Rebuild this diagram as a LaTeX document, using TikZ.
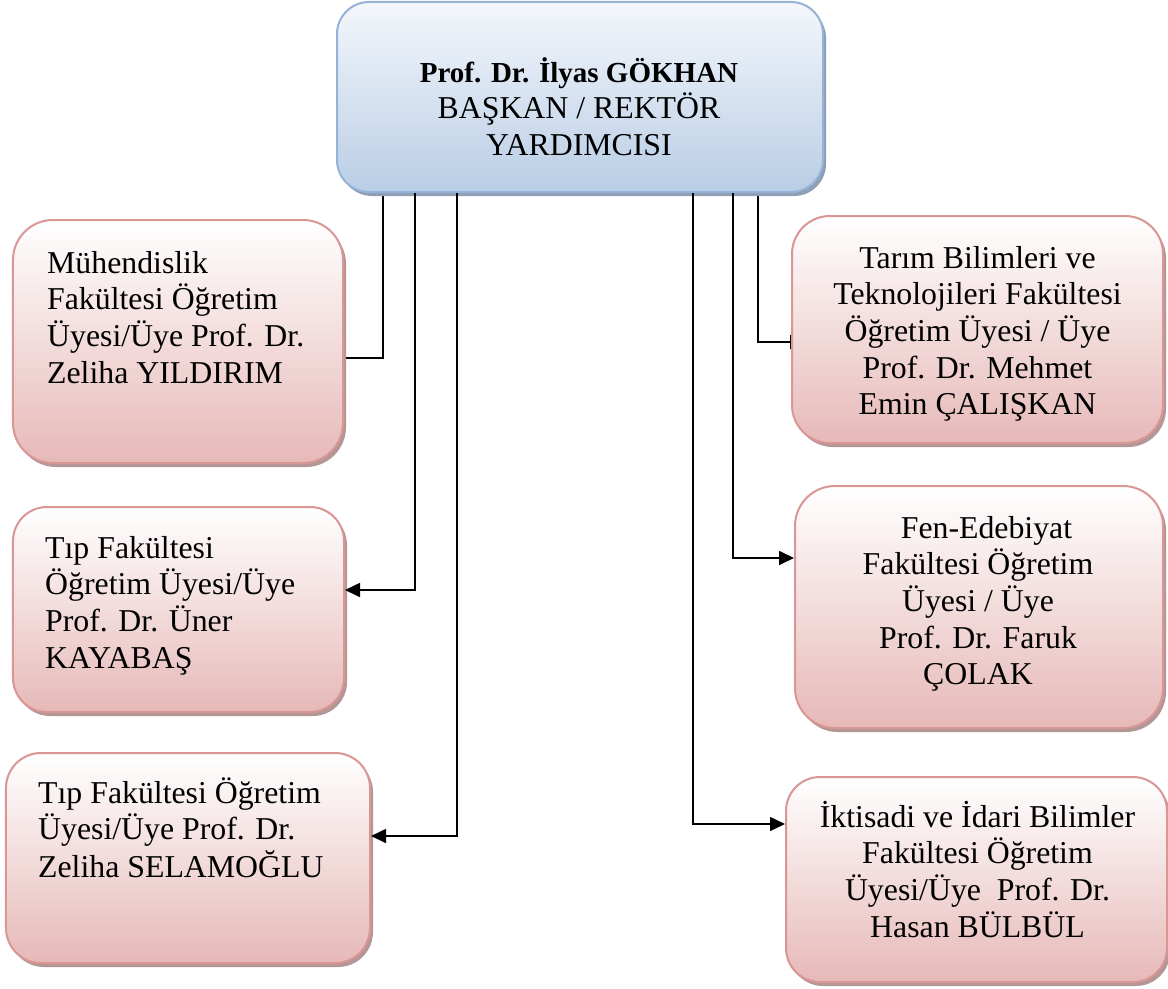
\documentclass[tikz,border=0pt]{standalone}
\usepackage{fontspec}
\setmainfont{Liberation Serif}
\usetikzlibrary{arrows.meta,shadows}
\definecolor{pinkbot}{HTML}{E6B9B8}
\definecolor{pinkline}{HTML}{D99694}
\definecolor{pinkshadow}{HTML}{B39797}
\definecolor{bluetop}{HTML}{F4F7FC}
\definecolor{bluebot}{HTML}{B9CDE5}
\definecolor{blueline}{HTML}{95B3D7}
\definecolor{blueshadow}{HTML}{8E9FB6}
\pgfdeclarelayer{bottom}
\pgfdeclarelayer{behind}
\pgfsetlayers{bottom,behind,main}
\tikzset{
  pinkbox/.style={rectangle, draw=pinkline, line width=2bp, top color=white, bottom color=pinkbot,
    inner sep=0pt, general shadow={shadow xshift=3bp, shadow yshift=-4bp, fill=pinkshadow}},
  bluebox/.style={rectangle, draw=blueline, line width=2bp, top color=bluetop, bottom color=bluebot,
    inner sep=0pt, general shadow={shadow xshift=3bp, shadow yshift=-4bp, fill=blueshadow}},
  txt/.style={inner sep=0pt, font=\fontsize{31.8bp}{36.7bp}\selectfont},
  conn/.style={draw=black, line width=1.7bp},
  arr/.style={conn, -{Triangle[length=15bp,width=14bp]}}
}
\begin{document}
\begin{tikzpicture}[x=1bp,y=-1bp]
\begin{pgfonlayer}{bottom}
\path[use as bounding box, fill=white] (0,0) rectangle (1168,989);
\end{pgfonlayer}

% boxes
\node[bluebox, minimum width=486bp, minimum height=190bp, rounded corners=32bp] (top) at (580,97) {};
\node[pinkbox, minimum width=330bp, minimum height=243bp, rounded corners=40bp] (l1) at (178,341.5) {};
\node[pinkbox, minimum width=331bp, minimum height=205bp, rounded corners=34bp] (l2) at (178.5,609.5) {};
\node[pinkbox, minimum width=364bp, minimum height=210bp, rounded corners=35bp] (l3) at (188,858) {};
\node[pinkbox, minimum width=371bp, minimum height=227bp, rounded corners=38bp] (r1) at (977.5,329.5) {};
\node[pinkbox, minimum width=368bp, minimum height=242bp, rounded corners=40bp] (r2) at (979,607) {};
\node[pinkbox, minimum width=381bp, minimum height=205bp, rounded corners=34bp] (r3) at (976.5,879.5) {};

% texts
\node[txt, anchor=base] (ttop) at (579,82) {\begin{tabular}[t]{@{}c@{}}{\fontsize{29bp}{36.7bp}\selectfont\bfseries Prof. Dr. İlyas GÖKHAN}\\BAŞKAN / REKTÖR\\YARDIMCISI\end{tabular}};
\node[txt, anchor=base west] (tl1) at (47,273) {\begin{tabular}[t]{@{}l@{}}Mühendislik\\Fakültesi Öğretim\\Üyesi/Üye Prof. Dr.\\Zeliha YILDIRIM\end{tabular}};
\node[txt, anchor=base west] (tl2) at (45,558) {\begin{tabular}[t]{@{}l@{}}Tıp Fakültesi\\Öğretim Üyesi/Üye\\Prof. Dr. Üner\\KAYABAŞ\end{tabular}};
\node[txt, anchor=base west] (tl3) at (38,803) {\begin{tabular}[t]{@{}l@{}}Tıp Fakültesi Öğretim\\Üyesi/Üye Prof. Dr.\\Zeliha SELAMOĞLU\end{tabular}};
\node[txt, anchor=base] (tr1) at (977.5,268) {\begin{tabular}[t]{@{}c@{}}Tarım Bilimleri ve\\Teknolojileri Fakültesi\\Öğretim Üyesi / Üye\\Prof. Dr. Mehmet\\Emin ÇALIŞKAN\end{tabular}};
\node[txt, anchor=base] (tr2) at (978,538) {\begin{tabular}[t]{@{}c@{}}\hspace*{17bp}Fen-Edebiyat\\Fakültesi Öğretim\\Üyesi / Üye\\Prof. Dr. Faruk\\ÇOLAK\end{tabular}};
\node[txt, anchor=base] (tr3) at (977.5,827) {\begin{tabular}[t]{@{}c@{}}İktisadi ve İdari Bilimler\\Fakültesi Öğretim\\Üyesi/Üye\ \ Prof. Dr.\\Hasan BÜLBÜL\end{tabular}};

% connector anchors
\coordinate (c1) at (383,358);
\coordinate (c2) at (415,590);
\coordinate (c3) at (457,836);
\coordinate (c4) at (693,824);
\coordinate (c5) at (733,558);
\coordinate (c6) at (758,342);

% connectors whose arrowheads are hidden behind their boxes
\begin{pgfonlayer}{behind}
\draw[arr] (top.south -| c1) |- ([xshift=-14bp]l1.east |- c1);
\draw[arr] (top.south -| c6) |- ([xshift=14bp]r1.west |- c6);
\end{pgfonlayer}

\draw[arr]  (top.south -| c2) |- (l2.east |- c2);
\draw[arr]  (top.south -| c3) |- (l3.east |- c3);
\draw[arr]  (top.south -| c4) |- (r3.west |- c4);
\draw[arr]  (top.south -| c5) |- (r2.west |- c5);
\end{tikzpicture}
\end{document}
